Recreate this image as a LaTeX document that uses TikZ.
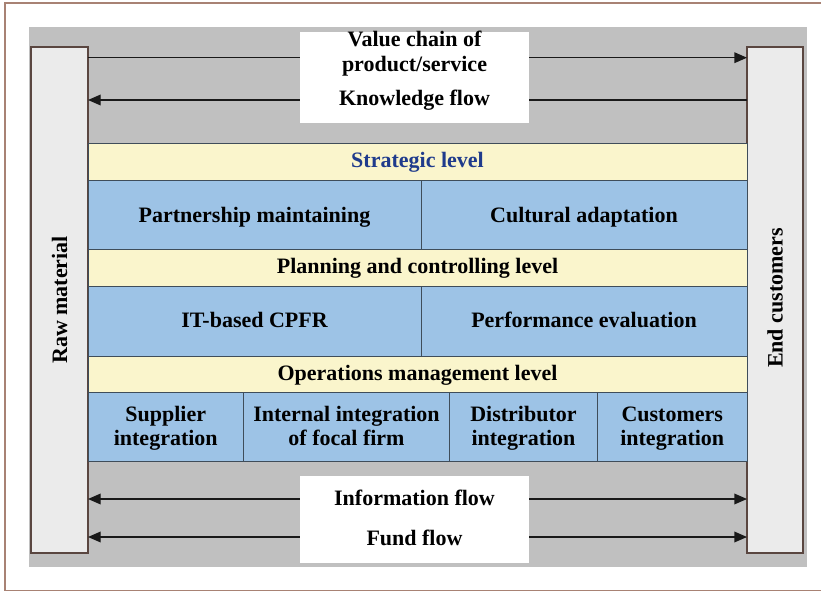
\documentclass[tikz,border=0pt]{standalone}
\usepackage{fontspec}
\setmainfont{Liberation Serif}
\usetikzlibrary{arrows.meta,fit}
\definecolor{bggray}{HTML}{C0C0C0}
\definecolor{bargray}{HTML}{EBEBEB}
\definecolor{barline}{HTML}{5A4640}
\definecolor{bandyellow}{HTML}{FAF5CC}
\definecolor{cellblue}{HTML}{9DC3E6}
\definecolor{edgeline}{HTML}{3F4D5A}
\definecolor{darkblue}{HTML}{1F3B8C}
\definecolor{framebrown}{HTML}{A88274}
\begin{document}
\begin{tikzpicture}[x=0.75pt,y=-0.75pt,
  lbl/.style={font=\fontsize{16.5}{19}\selectfont\bfseries, text=black, inner sep=0pt},
  area/.style={fit={#1}, inner sep=0pt, outer sep=0pt},
  sidebar/.style={area={#1}, fill=bargray, draw=barline, line width=0.8pt},
  band/.style={area={#1}, fill=bandyellow, draw=edgeline, line width=0.75pt},
  cell/.style={area={#1}, fill=cellblue, draw=edgeline, line width=0.75pt},
  flowbox/.style={area={#1}, fill=white},
  flow/.style={line width=1pt, draw=black!90, -{Triangle[length=9.5pt,width=8pt]}},
  flowboth/.style={line width=1pt, draw=black!90, {Triangle[length=9.5pt,width=8pt]}-{Triangle[length=9.5pt,width=8pt]}}]
\useasboundingbox (0,0) rectangle (821,592);
\fill[white] (0,0) rectangle (821,592);
% outer frame
\draw[framebrown, line width=0.8pt] (821,3) -- (5,3) -- (5,590.5) -- (821,590.5);
% grey background
\node[area={(29,27) (807,567)}, fill=bggray] (bg) {};
% side bars
\node[sidebar={(31,47) (88,553)}] (lbar) {};
\node[sidebar={(747,47) (803,553)}] (rbar) {};
\node[lbl, rotate=90] (lbartext) at (lbar.center) {Raw material};
\node[lbl, rotate=90] (rbartext) at ([yshift=1.5pt]rbar.center) {End customers};
% flow coordinates
\coordinate (f1) at (0,57.7);
\coordinate (f2) at (0,100);
\coordinate (f3) at (0,499);
\coordinate (f4) at (0,537);
\draw[flow] (lbar.east |- f1) -- (rbar.west |- f1);
\draw[flow] (rbar.west |- f2) -- (lbar.east |- f2);
\draw[flowboth] (lbar.east |- f3) -- (rbar.west |- f3);
\draw[flowboth] (lbar.east |- f4) -- (rbar.west |- f4);
% flow boxes
\node[flowbox={(300,32) (529,123)}] (topbox) {};
\node[flowbox={(300,476) (529,563)}] (botbox) {};
\node[lbl, anchor=base] (t1) at (414.5,46.7) {Value chain of};
\node[lbl, anchor=base] (t2) at (414.5,71.7) {product/service};
\node[lbl, anchor=base] (t3) at (414.5,105) {Knowledge flow};
\node[lbl, anchor=base] (b1) at (414.5,505) {Information flow};
\node[lbl, anchor=base] (b2) at (414.5,545) {Fund flow};
% levels
\node[band={(88,143) (747,180)}] (strat) {};
\node[band={(88,249.5) (747,286)}] (plan) {};
\node[band={(88,356) (747,392.5)}] (oper) {};
\node[lbl, anchor=base, text=darkblue] (stratt) at (417.5,167.3) {Strategic level};
\node[lbl, anchor=base] (plant) at (417.5,273.3) {Planning and controlling level};
\node[lbl, anchor=base] (opert) at (417.5,380) {Operations management level};
% strategic cells
\node[cell={(88,180) (421,249.5)}] (c11) {};
\node[cell={(421,180) (747,249.5)}] (c12) {};
\node[lbl, anchor=base] at (c11.center |- 0,222) {Partnership maintaining};
\node[lbl, anchor=base] at (c12.center |- 0,222) {Cultural adaptation};
% planning cells
\node[cell={(88,286) (421,356)}] (c21) {};
\node[cell={(421,286) (747,356)}] (c22) {};
\node[lbl, anchor=base] at (c21.center |- 0,327.5) {IT-based CPFR};
\node[lbl, anchor=base] at (c22.center |- 0,327.5) {Performance evaluation};
% operations cells
\node[cell={(88,392.5) (243.5,461.5)}] (c31) {};
\node[cell={(243.5,392.5) (449.5,461.5)}] (c32) {};
\node[cell={(449.5,392.5) (597.5,461.5)}] (c33) {};
\node[cell={(597.5,392.5) (747,461.5)}] (c34) {};
\node[lbl, anchor=base] at (c31.center |- 0,421.7) {Supplier};
\node[lbl, anchor=base] at (c31.center |- 0,445.7) {integration};
\node[lbl, anchor=base] at (c32.center |- 0,421.7) {Internal integration};
\node[lbl, anchor=base] at (c32.center |- 0,445.7) {of focal firm};
\node[lbl, anchor=base] at (c33.center |- 0,421.7) {Distributor};
\node[lbl, anchor=base] at (c33.center |- 0,445.7) {integration};
\node[lbl, anchor=base] at (c34.center |- 0,421.7) {Customers};
\node[lbl, anchor=base] at (c34.center |- 0,445.7) {integration};
\end{tikzpicture}
\end{document}
